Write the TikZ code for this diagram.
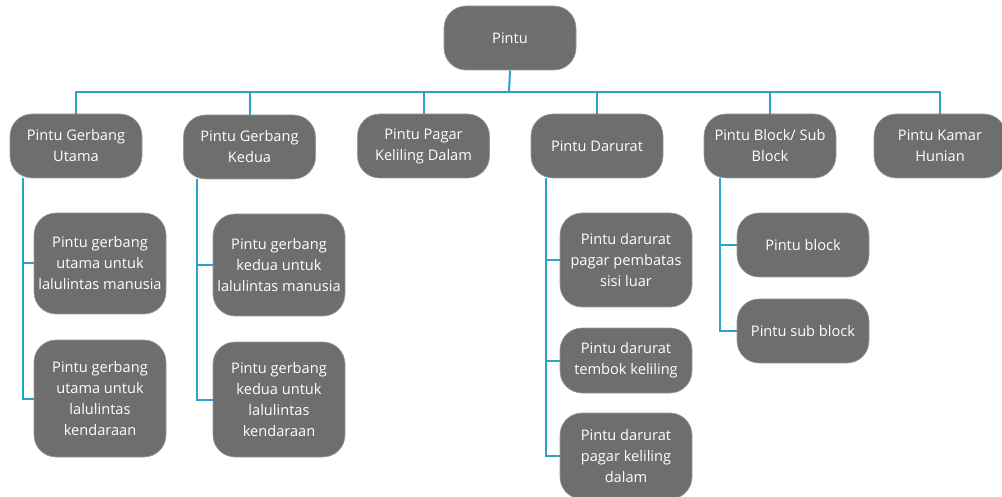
\documentclass[tikz,border=0pt]{standalone}
\usepackage{fontspec}
\setmainfont{Open Sans}
\begin{document}
\begin{tikzpicture}[x=1pt,y=-1pt,
  box/.style={fill=boxgray, draw=boxedge, line width=0.6pt, rounded corners=22pt, text=white,
    align=center, inner sep=0pt, minimum width=132pt, minimum height=#1,
    font=\fontsize{14.6}{21}\selectfont},
  box/.default=64pt,
  link/.style={draw=linkblue, line width=2pt}]
\definecolor{boxgray}{HTML}{6E6E6E}
\definecolor{boxedge}{HTML}{9A9A9A}
\definecolor{linkblue}{HTML}{2AA3C4}
\useasboundingbox (0,0) rectangle (1002,497);
% root
\node[box] (root) at (510,38) {Pintu};
% level 1
\node[box] (utama) at (76,146) {Pintu Gerbang\\Utama};
\node[box] (kedua) at (249.5,147) {Pintu Gerbang\\Kedua};
\node[box] (pagar) at (423.5,146) {Pintu Pagar\\Keliling Dalam};
\node[box] (darurat) at (597,146) {Pintu Darurat};
\node[box] (block) at (770,146) {Pintu Block/ Sub\\Block};
\node[box] (kamar) at (940,146) {Pintu Kamar\\Hunian};
% bus
\coordinate (bus) at (509,92);
\draw[link] (root.south) -- (bus);
\foreach \n in {utama,kedua,pagar,darurat,block,kamar}
  \draw[link] (bus) -| (\n.north);
% children
\node[box=101pt] (u1) at (100,263.5) {Pintu gerbang\\utama untuk\\lalulintas manusia};
\node[box=117pt] (u2) at (100,398.5) {Pintu gerbang\\utama untuk\\lalulintas\\kendaraan};
\node[box=102pt] (k1) at (279,265) {Pintu gerbang\\kedua untuk\\lalulintas manusia};
\node[box=115pt] (k2) at (279,399.5) {Pintu gerbang\\kedua untuk\\lalulintas\\kendaraan};
\node[box=94pt] (d1) at (626,260) {Pintu darurat\\pagar pembatas\\sisi luar};
\node[box=65pt] (d2) at (626,360.5) {Pintu darurat\\tembok keliling};
\node[box=86pt] (d3) at (626,456) {Pintu darurat\\pagar keliling\\dalam};
\node[box] (b1) at (803,245) {Pintu block};
\node[box] (b2) at (803,331) {Pintu sub block};
% branch lines
\draw[link] ([xshift=-53pt]utama.south) |- (u1.west);
\draw[link] ([xshift=-53pt]utama.south) |- (u2.west);
\draw[link] ([xshift=-52.5pt]kedua.south) |- (k1.west);
\draw[link] ([xshift=-52.5pt]kedua.south) |- (k2.west);
\draw[link] ([xshift=-51pt]darurat.south) |- (d1.west);
\draw[link] ([xshift=-51pt]darurat.south) |- (d2.west);
\draw[link] ([xshift=-51pt]darurat.south) |- (d3.west);
\draw[link] ([xshift=-50pt]block.south) |- (b1.west);
\draw[link] ([xshift=-50pt]block.south) |- (b2.west);
\end{tikzpicture}
\end{document}
